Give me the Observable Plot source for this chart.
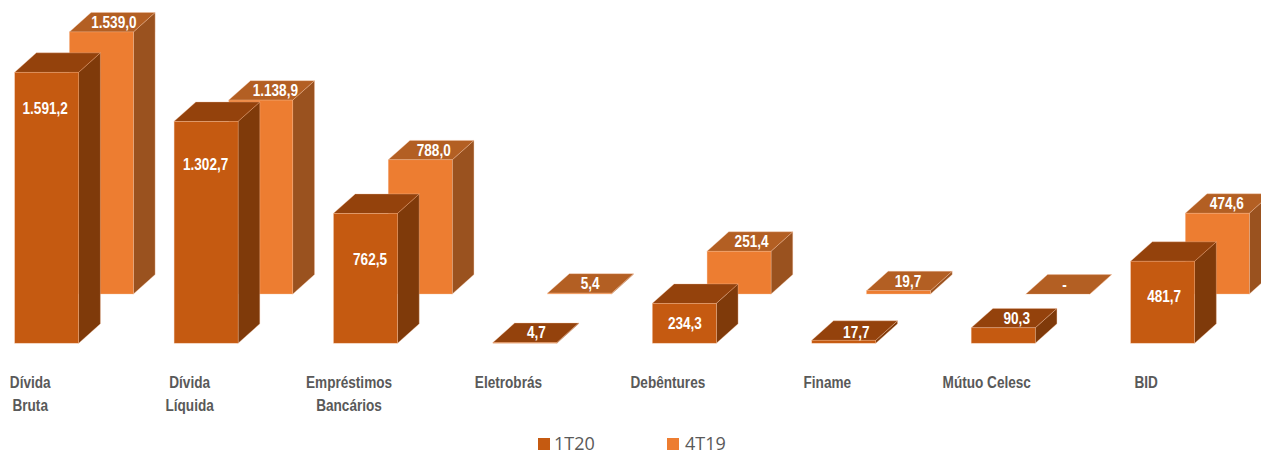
<!DOCTYPE html>
<html>
<head>
<meta charset="utf-8">
<script src="https://cdn.jsdelivr.net/npm/d3@7"></script>
<script src="https://cdn.jsdelivr.net/npm/@observablehq/plot@0.6"></script>
<style>
html,body{margin:0;padding:0;background:#fff;}
#chart{position:relative;width:1261px;height:452px;overflow:hidden;}
#legend{position:absolute;left:0;top:420px;width:1261px;height:32px;font-family:"Open Sans",sans-serif;font-size:18px;color:#595959;}
#legend span.sw{position:absolute;top:18px;width:12px;height:12px;}
#legend span.tx{position:absolute;top:14px;line-height:18px;height:18px;overflow:visible;}
</style>
</head>
<body>
<div id="chart"></div>
<script>
// Data
const categories = ["Dívida\nBruta","Dívida\nLíquida","Empréstimos\nBancários","Eletrobrás","Debêntures","Finame","Mútuo Celesc","BID"];
const values1T20 = [1591.2,1302.7,762.5,4.7,234.3,17.7,90.3,481.7];
const values4T19 = [1539.0,1138.9,788.0,5.4,251.4,19.7,null,474.6];
const seriesNames = ["1T20","4T19"];

// Label nudges in screen pixels relative to the bar's front top-left corner (hand placed in original)
const labelDrop1T20 = [36,43,46,-10,20,-8,-10,35];
const labelDrop4T19 = [-10,-10,-10,-10,-10,-10,-10,-10];
const labelShift1T20 = [30,31,36,43,32,44,45,33];
const labelShift4T19 = [44,46,45,42,44,41,38,41];

// Chart geometry
const W = 1261, H = 420;
const slotPx = 159.42, leftPx = 14.7, zeroPx = 343.2, pxPerUnit = 0.1703;
const barW = 64 / slotPx, depthX = 21.7 / slotPx, depthY = 19.4 / pxPerUnit;
const backX = 54.7 / slotPx, backY = 49.2 / pxPerUnit;
const condense = 0.8;

const palette = {
  "1T20": {front:"#C55A11", top:"#94420C", side:"#7F3A0A"},
  "4T19": {front:"#ED7D31", top:"#B35F23", side:"#9A521F"}
};
const edge = "#F6C4A2";

function box(values, name, ox, oy) {
  const c = palette[name];
  const rows = values.map((v, i) => ({i, l: i + ox, r: i + ox + barW, b: oy, t: oy + (v ?? 0)}));
  const side = rows.flatMap(d => [
    {z:d.i, x:d.r, y1:d.b, y2:d.t},
    {z:d.i, x:d.r + depthX, y1:d.b + depthY, y2:d.t + depthY}
  ]);
  const top = rows.flatMap(d => [
    {z:d.i, x1:d.l, x2:d.r, y:d.t},
    {z:d.i, x1:d.l + depthX, x2:d.r + depthX, y:d.t + depthY}
  ]);
  const common = {stroke: edge, strokeWidth: 0.5, strokeOpacity: 0.7};
  return [
    Plot.area(side, {x1:"x", x2:"x", y1:"y1", y2:"y2", z:"z", fill:c.side, ...common}),
    Plot.area(top, {x1:"x1", x2:"x2", y1:"y", y2:"y", z:"z", fill:c.top, ...common}),
    Plot.rect(rows, {x1:"l", x2:"r", y1:"b", y2:"t", fill:c.front, ...common})
  ];
}

function labels(values, ox, oy, shift, drop) {
  const rows = values.map((v, i) => ({
    text: v == null ? "-" : d3.format(",.1f")(v).replace(/[,.]/g, m => m === "," ? "." : ","),
    x: i + ox + shift[i] / slotPx,
    y: oy + (v ?? 0) - drop[i] / pxPerUnit
  }));
  return Plot.text(rows, {
    x:"x", y:"y", text:"text", fill:"#fff", fontWeight:700, fontSize:17,
    fontFamily:"'Liberation Sans',sans-serif", textAnchor:"middle"
  });
}

const catRows = categories.map((c, i) => ({c, x: i + (32 - 17) / slotPx}));

const plot = Plot.plot({
  width: W, height: H,
  marginTop: 0, marginRight: 0, marginBottom: 0, marginLeft: 0,
  x: {type:"linear", domain:[-leftPx / slotPx, (W - leftPx) / slotPx], range:[0, W], axis:null},
  y: {type:"linear", domain:[-(H - zeroPx) / pxPerUnit, zeroPx / pxPerUnit], range:[H, 0], axis:null},
  style: {background:"#fff", overflow:"hidden"},
  marks: [
    ...box(values4T19, "4T19", backX, backY),
    ...box(values1T20, "1T20", 0, 0),
    labels(values4T19, 0, backY, labelShift4T19.map(s => s + 54.7), labelDrop4T19),
    labels(values1T20, 0, 0, labelShift1T20, labelDrop1T20),
    Plot.text(catRows, {
      x:"x", y: () => -(371 - zeroPx) / pxPerUnit, text:"c", fill:"#595959", fontWeight:700, fontSize:17,
      lineHeight: 23 / 17, lineAnchor:"top", textAnchor:"middle",
      fontFamily:"'Liberation Sans',sans-serif"
    })
  ]
});
// The original uses a condensed face; squeeze the glyphs horizontally around each text's anchor.
plot.querySelectorAll("text").forEach(t => {
  const tr = t.getAttribute("transform") || "";
  t.setAttribute("transform", `${tr} scale(${condense},1)`);
});
const host = document.getElementById("chart");
host.appendChild(plot);

const legend = document.createElement("div");
legend.id = "legend";
[[538,554],[667,685]].forEach((p, i) => {
  const s = document.createElement("span"); s.className = "sw"; s.style.left = p[0] + "px";
  s.style.background = palette[seriesNames[i]].front;
  const t = document.createElement("span"); t.className = "tx"; t.style.left = p[1] + "px";
  t.textContent = seriesNames[i];
  legend.append(s, t);
});
host.appendChild(legend);
</script>
</body>
</html>
